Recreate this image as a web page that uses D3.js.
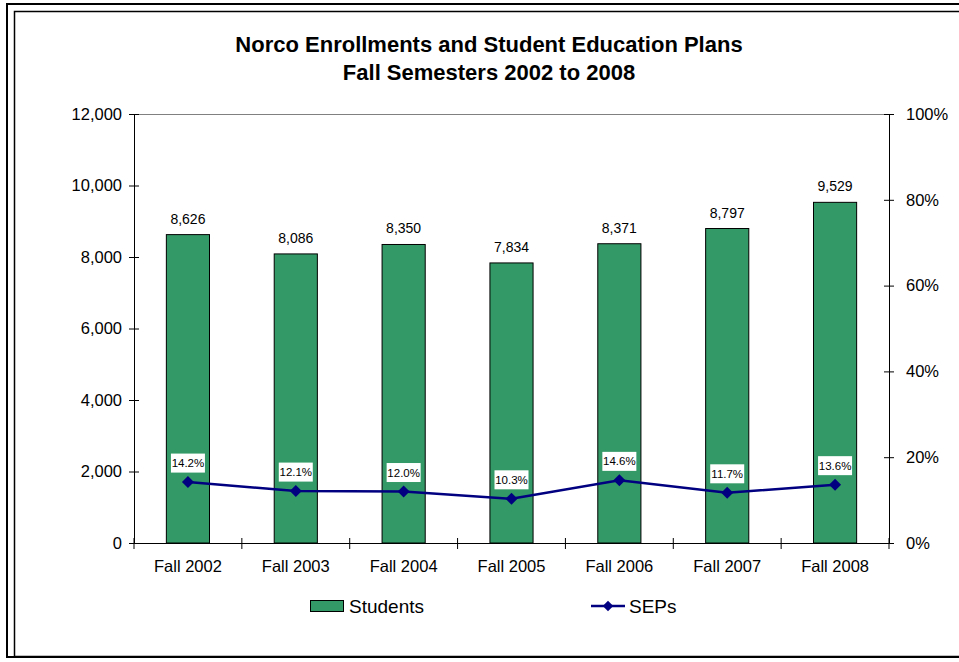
<!DOCTYPE html>
<html>
<head>
<meta charset="utf-8">
<script src="https://cdn.jsdelivr.net/npm/d3@7"></script>
<style>
  html, body { margin: 0; padding: 0; background: #fff; }
  svg { display: block; font-family: "Liberation Sans", Arial, sans-serif; }
</style>
</head>
<body>
<svg id="chart" width="959" height="662"></svg>
<script>
// Enrollment and education-plan data, Fall 2002–2008
const categories = ["Fall 2002", "Fall 2003", "Fall 2004", "Fall 2005", "Fall 2006", "Fall 2007", "Fall 2008"];
const students = [8626, 8086, 8350, 7834, 8371, 8797, 9529];
const seps = [14.2, 12.1, 12.0, 10.3, 14.6, 11.7, 13.6];
const leftTicks = [0, 2000, 4000, 6000, 8000, 10000, 12000];
const rightTicks = [0, 20, 40, 60, 80, 100];

const svg = d3.select("#chart");
const W = 959, H = 662;
const plot = { left: 134, right: 889, top: 114, bottom: 543 };
const FONT = "Liberation Sans, Arial, sans-serif";

// Double frame around the chart
svg.append("rect").attr("x", 7).attr("y", 4).attr("width", W + 10).attr("height", 653)
  .attr("fill", "none").attr("stroke", "#000").attr("stroke-width", 2);
svg.append("rect").attr("x", 14.5).attr("y", 11.5).attr("width", W + 10).attr("height", 645)
  .attr("fill", "none").attr("stroke", "#000").attr("stroke-width", 1.5);

// Title
const title = svg.append("text").attr("text-anchor", "middle").attr("font-weight", "bold")
  .attr("font-size", 22).attr("fill", "#000");
title.append("tspan").attr("x", 489).attr("y", 52).text("Norco Enrollments and Student Education Plans");
title.append("tspan").attr("x", 489).attr("y", 80).text("Fall Semesters 2002 to 2008");

const xc = d3.scaleBand().domain(categories).range([plot.left, plot.right]);
const yL = d3.scaleLinear().domain([0, 12000]).range([plot.bottom, plot.top]);
const yR = d3.scaleLinear().domain([0, 100]).range([plot.bottom, plot.top]);

// Plot area top edge
svg.append("line").attr("x1", plot.left).attr("x2", plot.right)
  .attr("y1", plot.top + 0.5).attr("y2", plot.top + 0.5).attr("stroke", "#808080");

// Bars
svg.append("g").selectAll("rect").data(students).join("rect")
  .attr("x", (d, i) => xc(categories[i]) + xc.bandwidth() * 0.3)
  .attr("width", xc.bandwidth() * 0.4)
  .attr("y", d => yL(d))
  .attr("height", d => yL(0) - yL(d))
  .attr("fill", "#339966").attr("stroke", "#000").attr("stroke-width", 1);

// Bar value labels
const fmt = d3.format(",");
svg.append("g").selectAll("text").data(students).join("text")
  .attr("x", (d, i) => xc(categories[i]) + xc.bandwidth() / 2)
  .attr("y", d => yL(d) - 11)
  .attr("text-anchor", "middle").attr("font-size", 14).attr("fill", "#000")
  .text(d => fmt(d));

// Left axis
const leftAxis = d3.axisLeft(yL).tickValues(leftTicks).tickFormat(fmt).tickSizeInner(5).tickSizeOuter(0).tickPadding(7);
const gl = svg.append("g").attr("transform", `translate(${plot.left},0)`).call(leftAxis);
gl.selectAll(".tick line").attr("x1", -5).attr("x2", 5).attr("stroke", "#000");
gl.select(".domain").attr("stroke", "#000");
gl.selectAll("text").attr("font-size", 16.5).attr("font-family", FONT).attr("fill", "#000");

// Right axis
const rightAxis = d3.axisRight(yR).tickValues(rightTicks).tickFormat(d => d + "%").tickSizeInner(5).tickSizeOuter(0).tickPadding(12);
const gr = svg.append("g").attr("transform", `translate(${plot.right},0)`).call(rightAxis);
gr.selectAll(".tick line").attr("x1", -5).attr("x2", 5).attr("stroke", "#000");
gr.select(".domain").attr("stroke", "#000");
gr.selectAll("text").attr("font-size", 16.5).attr("font-family", FONT).attr("fill", "#000");

// Bottom axis: ticks at category boundaries
const gb = svg.append("g");
gb.append("line").attr("x1", plot.left - 5).attr("x2", plot.right + 5)
  .attr("y1", plot.bottom + 0.5).attr("y2", plot.bottom + 0.5).attr("stroke", "#000");
const bounds = categories.map(c => xc(c)).concat([plot.right]);
gb.selectAll("line.tk").data(bounds).join("line").attr("class", "tk")
  .attr("x1", d => d).attr("x2", d => d)
  .attr("y1", plot.bottom - 5).attr("y2", plot.bottom + 6).attr("stroke", "#000");
gb.selectAll("text").data(categories).join("text")
  .attr("x", d => xc(d) + xc.bandwidth() / 2).attr("y", plot.bottom + 29)
  .attr("text-anchor", "middle").attr("font-size", 16.5).attr("fill", "#000")
  .text(d => d);

// SEP line with diamond markers
const cx = i => xc(categories[i]) + xc.bandwidth() / 2;
const line = d3.line().x((d, i) => cx(i)).y(d => yR(d));
svg.append("path").datum(seps).attr("d", line)
  .attr("fill", "none").attr("stroke", "#000080").attr("stroke-width", 2.5);
svg.append("g").selectAll("path").data(seps).join("path")
  .attr("d", d3.symbol().type(d3.symbolSquare).size(72))
  .attr("transform", (d, i) => `translate(${cx(i)},${yR(d)}) rotate(45)`)
  .attr("fill", "#000080");

// SEP labels in white boxes
const lbl = svg.append("g").selectAll("g").data(seps).join("g")
  .attr("transform", (d, i) => `translate(${cx(i)},${yR(d) - 19})`);
lbl.append("rect").attr("x", -17).attr("y", -9.5).attr("width", 34).attr("height", 19).attr("fill", "#fff");
lbl.append("text").attr("text-anchor", "middle").attr("dy", 4).attr("font-size", 11.5).attr("fill", "#000")
  .text(d => d.toFixed(1) + "%");

// Legend
const lg = svg.append("g");
lg.append("rect").attr("x", 310.5).attr("y", 600.5).attr("width", 33).attr("height", 11)
  .attr("fill", "#339966").attr("stroke", "#000");
lg.append("text").attr("x", 349).attr("y", 612.5).attr("font-size", 19).attr("fill", "#000").text("Students");
lg.append("line").attr("x1", 591).attr("x2", 625).attr("y1", 606).attr("y2", 606)
  .attr("stroke", "#000080").attr("stroke-width", 2.5);
lg.append("path").attr("d", d3.symbol().type(d3.symbolSquare).size(55))
  .attr("transform", "translate(608,606) rotate(45)").attr("fill", "#000080");
lg.append("text").attr("x", 629).attr("y", 612.5).attr("font-size", 19).attr("fill", "#000").text("SEPs");
</script>
</body>
</html>
